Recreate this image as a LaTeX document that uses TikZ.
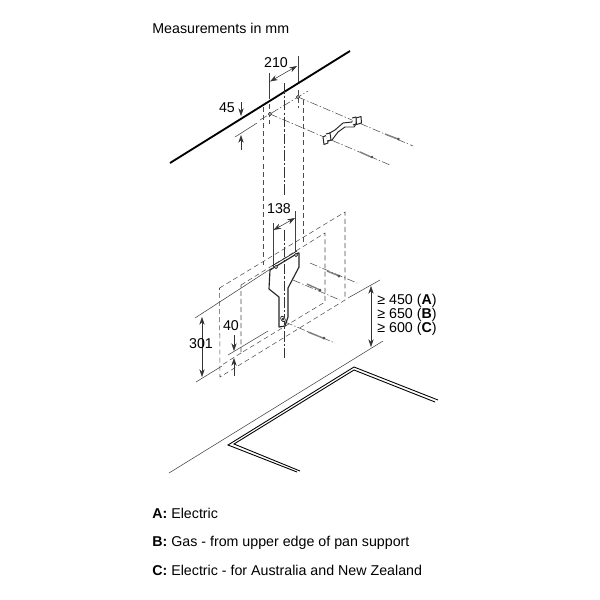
\documentclass[tikz,border=0pt]{standalone}
\usepackage{fontspec}
\setmainfont{Liberation Sans}
\usetikzlibrary{arrows.meta}
\tikzset{
  thinl/.style={line width=0.3pt,draw=black!75},
  dashl/.style={line width=0.3pt,draw=black!70,dash pattern=on 2.8pt off 1.8pt},
  dashdot/.style={line width=0.3pt,draw=black!70,dash pattern=on 4.5pt off 1.2pt on 0.8pt off 1.2pt},
  axisl/.style={line width=0.45pt,draw=black!80,dash pattern=on 6pt off 1.2pt on 1.2pt off 1.2pt},
  dimarrow/.style={line width=0.3pt,draw=black!80,-{Stealth[length=4.4pt,width=3pt]}},
  dimboth/.style={line width=0.3pt,draw=black!80,{Stealth[length=4.4pt,width=3pt]}-{Stealth[length=4.4pt,width=3pt]}},
  part/.style={line width=0.55pt,draw=black!85,fill=white,line join=round},
  hobl/.style={line width=0.5pt,draw=black},
  lbl/.style={inner sep=0pt,font=\fontsize{8.1pt}{9pt}\selectfont},
  txt/.style={lbl,anchor=west},
  screw/.style={line width=0.8pt,draw=black!50},
  screwhead/.style={fill=black!70,draw=none}
}
\begin{document}
\begin{tikzpicture}[x=0.02cm,y=-0.02cm]
\useasboundingbox[fill=white] (0,0) rectangle (600,600);

% ceiling / wall line
\coordinate (w1) at (170,163); \coordinate (w2) at (350,51);
\draw[line width=1.05pt,black] (w1) -- (w2);

% holes and upper construction lines
\coordinate (h1) at (270,114); \coordinate (h2) at (298,97);
\draw[dashdot] (260,120) -- (308,91);
\draw[dashdot] (h2) -- (413,146);
\draw[dashdot] (h1) -- (390,165);
\draw[dashl] (269.5,104) -- (269.5,124);
\draw[dashl] (298,90) -- (298,108);
\draw[part,line width=0.4pt] (h1) circle (1.6);
\draw[part,line width=0.4pt] (h2) circle (1.6);
% 210
\draw[thinl] (269.5,73) -- (269.5,99);
\draw[thinl] (298,56) -- (298,82);
\draw[dimboth] (270,81.5) -- (297,66);
\node[lbl] (t210) at (276,63) {210};
% 45
\draw[dimarrow] (241,102) -- (241,116);
\draw[dimarrow] (241,150) -- (241,135);
\draw[thinl] (235,137) -- (257,123);
\node[lbl] (t45) at (227,108) {45};

% long verticals
\draw[dashl] (263,107) -- (263,267);
\draw[dashl] (303,100) -- (303,245);
\draw[axisl] (284,83) -- (284,196);
\draw[axisl] (284,230) -- (284,358);

% upper bracket
\draw[screw] (385,134) -- (398,139); \fill[screwhead] (398.5,139) circle (1.4);
\draw[screw] (360,152) -- (371,157); \fill[screwhead] (372,157) circle (1.4);
\draw[part] (328,134) -- (335,130) -- (343,123) -- (352,122) -- (354,118) -- (356,124) -- (354,127) -- (345,127) -- (338,132) -- (332,140) -- (328,141) -- cycle;
\draw[part] (323,137) -- (327,135) -- (328,143) -- (324,144.5) -- cycle;
\draw[part] (326,134) -- (330,133) -- (331,140) -- (327,141);
\draw[part] (356,118) -- (361,116.5) -- (361.5,123) -- (356.5,124.5) -- cycle;
\draw[part] (352,118) -- (356,117) -- (356,124) -- (353,125);

% 138
\draw[thinl] (273,223) -- (273,267);
\draw[thinl] (295,211) -- (295,252);
\draw[dimboth] (273.5,230) -- (295,218);
\node[lbl] (t138) at (279,209) {138};

% dashed template rectangles
\draw[dashl] (219.5,288) -- (345,212) -- (345,300) -- (220,377) -- cycle;
\draw[dashl] (241,285) -- (325,233) -- (325,302) -- (241,353) -- cycle;
\draw[dashl] (241,353) -- (222,365);

% solid reference lines
\draw[thinl] (195,318) -- (272,268);
\draw[thinl] (196,382) -- (222,366);
\draw[thinl] (228,355) -- (268,331);
\draw[thinl] (348,298) -- (380,280);
\draw[thinl] (169,473) -- (383,341);

% lower construction lines and screws
\draw[dashdot] (310,263) -- (357,283);
\draw[dashdot] (293,280) -- (340,300);
\draw[dashdot] (285,322) -- (335,343);
\draw[screw] (327,271) -- (338,275.5); \fill[screwhead] (339,276) circle (1.5);
\draw[screw] (307,284) -- (319,289.5); \fill[screwhead] (320,290) circle (1.5);
\draw[screw] (308,332) -- (323,338); \fill[screwhead] (324,338) circle (1.5);

% wall bracket
\draw[part,fill=none,line width=0.65pt] (270,270) -- (298,253) -- (299,253) -- (299,267) -- (288,288) -- (288,317) -- (285,326) -- (279,327) -- (279,297) -- (269,289) -- cycle;
\draw[part,fill=none,line width=0.4pt] (272,266) -- (297,251);
\draw[part,line width=0.4pt] (276,267) circle (1.6);
\draw[part,line width=0.4pt] (296,255) circle (1.6);
\draw[part,line width=0.4pt,rotate around={-55:(283,319)}] (283,319) ellipse (3 and 2);
\draw[part,line width=0.4pt] (283,319) circle (1);

% 301 and 40
\draw[dimboth] (202,317) -- (202,377);
\node[lbl] (t301) at (201,344) {301};
\draw[dimarrow] (234,335) -- (234,351);
\draw[dimarrow] (234,376) -- (234,358);
\node[lbl] (t40) at (231,326) {40};

% clearance
\draw[dimboth] (371,286) -- (371,347);
\node[txt] (ta) at (377,301) {≥ 450 (\textbf{A})};
\node[txt] (tb) at (377,315) {≥ 650 (\textbf{B})};
\node[txt] (tc) at (377,329) {≥ 600 (\textbf{C})};

% hob
\draw[hobl] (297,472) -- (228,445) -- (354,367) -- (438,400);
\draw[hobl] (300,471) -- (234,444) -- (354,370) -- (435,402);

% texts
\node[txt] (title) at (152,28.5) {Measurements in mm};
\node[txt] (la) at (152,513.5) {\textbf{A:} Electric};
\node[txt] (lb) at (152,542.5) {\textbf{B:} Gas - from upper edge of pan support};
\node[txt] (lc) at (152,570.5) {\textbf{C:} Electric - for Australia and New Zealand};
\end{tikzpicture}
\end{document}
